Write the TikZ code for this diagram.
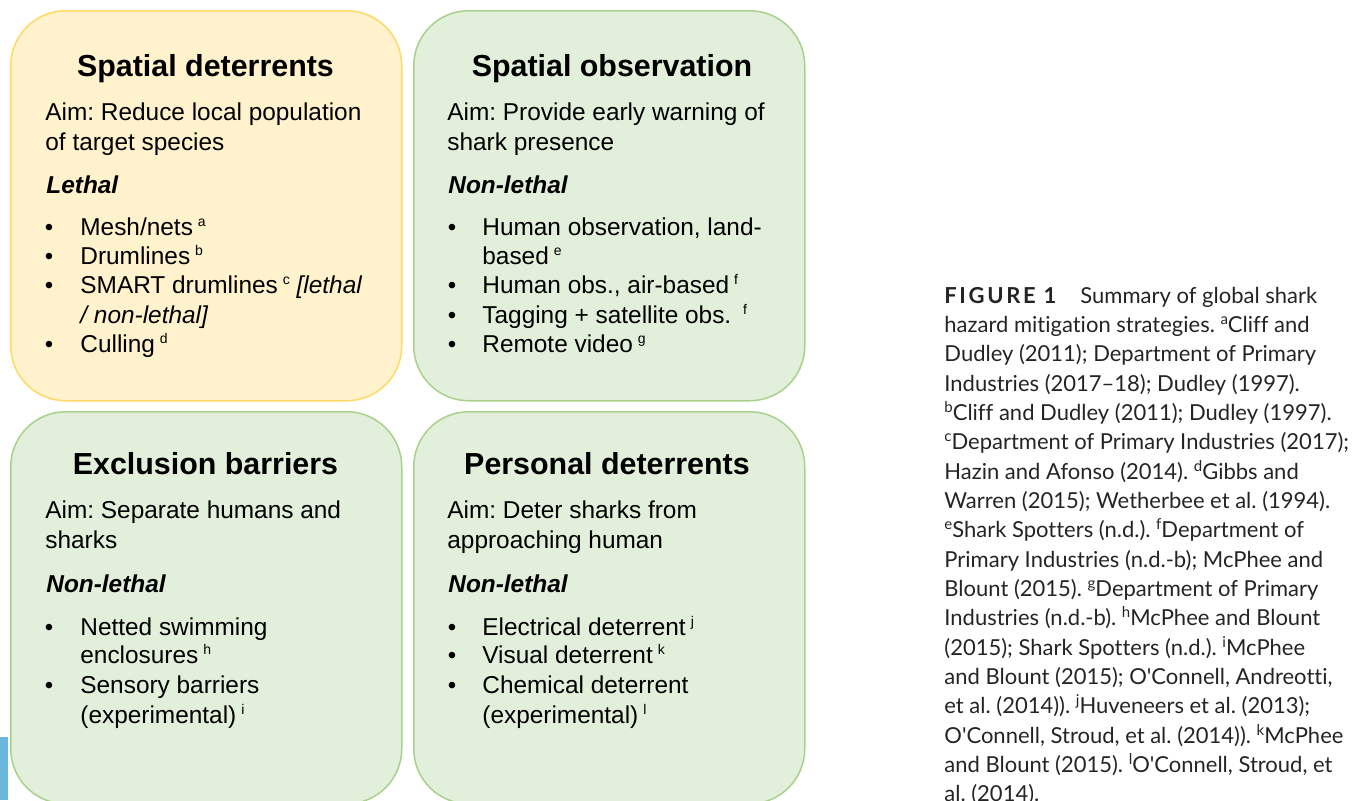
\documentclass[tikz,border=0pt]{standalone}
\usepackage{fontspec}
\setmainfont{Liberation Sans}
\newfontfamily\latofont[Ligatures=NoCommon]{Lato}
\newfontfamily\latolabel[LetterSpace=12]{Lato}
\frenchspacing

\definecolor{sdfill}{HTML}{FFF2CC}
\definecolor{sdline}{HTML}{FFD966}
\definecolor{nlfill}{HTML}{E2EFDA}
\definecolor{nlline}{HTML}{A9D18E}
\definecolor{edgeblue}{HTML}{6BB7DB}
\definecolor{capgray}{HTML}{262324}

\newcommand{\refmark}[1]{\hspace{2.5pt}\raisebox{4.5pt}{\fontsize{7}{7}\selectfont #1}}
\newcommand{\capref}[1]{\raisebox{4pt}{\fontsize{7.5}{7.5}\selectfont #1}}

\tikzset{
  panel/.style={rectangle, rounded corners=27.5pt, line width=0.75pt, anchor=north west,
    minimum width=195.5pt, minimum height=195pt, inner sep=0pt},
  lethalpanel/.style={panel, draw=sdline, fill=sdfill},
  safepanel/.style={panel, draw=nlline, fill=nlfill},
  heading/.style={anchor=base, inner sep=0pt, font=\bfseries\fontsize{15.2}{18}\selectfont},
  bodyline/.style={anchor=base west, inner sep=0pt, font=\fontsize{12.2}{15}\selectfont},
  kind/.style={bodyline, font=\bfseries\itshape\fontsize{12.2}{15}\selectfont},
  bulletmark/.style={anchor=base, inner sep=0pt, font=\fontsize{12}{15}\selectfont},
  capline/.style={anchor=base west, inner sep=0pt, text=capgray, font=\latofont\fontsize{11}{14}\selectfont}
}

\begin{document}
\begin{tikzpicture}[x=0.5pt,y=-0.5pt]
  \useasboundingbox (0,0) rectangle (1364,800);
  \clip (0,0) rectangle (1364,800);

  % the four panels
  \node[lethalpanel] (spatdet) at (10,10) {};
  \node[safepanel] (spatobs) at (413,10) {};
  \node[safepanel, minimum height=196pt] (exclbar) at (10,411) {};
  \node[safepanel, minimum height=196pt] (persdet) at (413,411) {};
  \fill[edgeblue] (0,737) rectangle (8,800);

  % spatial deterrents
  \node[heading] (spatdet-title) at (205.5,76) {Spatial deterrents};
  \node[bodyline] (spatdet-aim1) at (45,120) {Aim: Reduce local population};
  \node[bodyline] (spatdet-aim2) at (45,150) {of target species};
  \node[kind] (spatdet-kind) at (46,193) {Lethal};
  \foreach \y/\n in {235/1,264/2,293/3,352/4}
    \node[bulletmark] (spatdet-b\n) at (49,\y) {•};
  \node[bodyline] (spatdet-i1) at (80,235) {Mesh/nets\refmark{a}};
  \node[bodyline] (spatdet-i2) at (80,264) {Drumlines\refmark{b}};
  \node[bodyline] (spatdet-i3) at (80,293) {SMART drumlines\refmark{c} \textit{[lethal}};
  \node[bodyline] (spatdet-i4) at (80,323) {\textit{/ non-lethal]}};
  \node[bodyline] (spatdet-i5) at (80,352) {Culling\refmark{d}};

  % spatial observation
  \node[heading] (spatobs-title) at (612,76) {Spatial observation};
  \node[bodyline] (spatobs-aim1) at (447,120) {Aim: Provide early warning of};
  \node[bodyline] (spatobs-aim2) at (447,150) {shark presence};
  \node[kind] (spatobs-kind) at (448,193) {Non-lethal};
  \foreach \y/\n in {235/1,293/2,323/3,352/4}
    \node[bulletmark] (spatobs-b\n) at (452,\y) {•};
  \node[bodyline] (spatobs-i1) at (482,235) {Human observation, land-};
  \node[bodyline] (spatobs-i2) at (482,264) {based\refmark{e}};
  \node[bodyline] (spatobs-i3) at (482,293) {Human obs., air-based\refmark{f}};
  \node[bodyline] (spatobs-i4) at (482,323) {Tagging + satellite obs.\ \refmark{f}};
  \node[bodyline] (spatobs-i5) at (482,352) {Remote video\refmark{g}};

  % exclusion barriers
  \node[heading] (exclbar-title) at (205.5,474) {Exclusion barriers};
  \node[bodyline] (exclbar-aim1) at (45,518) {Aim: Separate humans and};
  \node[bodyline] (exclbar-aim2) at (45,548) {sharks};
  \node[kind] (exclbar-kind) at (46,592) {Non-lethal};
  \foreach \y/\n in {635/1,693/2}
    \node[bulletmark] (exclbar-b\n) at (49,\y) {•};
  \node[bodyline] (exclbar-i1) at (80,635) {Netted swimming};
  \node[bodyline] (exclbar-i2) at (80,663) {enclosures\refmark{h}};
  \node[bodyline] (exclbar-i3) at (80,693) {Sensory barriers};
  \node[bodyline] (exclbar-i4) at (80,723) {(experimental)\refmark{i}};

  % personal deterrents
  \node[heading] (persdet-title) at (607,474) {Personal deterrents};
  \node[bodyline] (persdet-aim1) at (447,518) {Aim: Deter sharks from};
  \node[bodyline] (persdet-aim2) at (447,548) {approaching human};
  \node[kind] (persdet-kind) at (448,592) {Non-lethal};
  \foreach \y/\n in {635/1,663/2,693/3}
    \node[bulletmark] (persdet-b\n) at (452,\y) {•};
  \node[bodyline] (persdet-i1) at (482,635) {Electrical deterrent\refmark{j}};
  \node[bodyline] (persdet-i2) at (482,663) {Visual deterrent\refmark{k}};
  \node[bodyline] (persdet-i3) at (482,693) {Chemical deterrent};
  \node[bodyline] (persdet-i4) at (482,723) {(experimental)\refmark{l}};

  % caption
  \foreach \txt [count=\i] in {
    {{\latolabel\bfseries FIGURE 1}\hspace{12pt}Summary of global shark},
    {hazard mitigation strategies. \capref{a}Cliff and},
    {Dudley (2011); Department of Primary},
    {Industries (2017–18); Dudley (1997).},
    {\capref{b}Cliff and Dudley (2011); Dudley (1997).},
    {\capref{c}Department of Primary Industries (2017);},
    {Hazin and Afonso (2014). \capref{d}Gibbs and},
    {Warren (2015); Wetherbee et al. (1994).},
    {\capref{e}Shark Spotters (n.d.). \capref{f}Department of},
    {Primary Industries (n.d.-b); McPhee and},
    {Blount (2015). \capref{g}Department of Primary},
    {Industries (n.d.-b). \capref{h}McPhee and Blount},
    {(2015); Shark Spotters (n.d.). \capref{i}McPhee},
    {and Blount (2015); O'Connell, Andreotti,},
    {et al. (2014)). \capref{j}Huveneers et al. (2013);},
    {O'Connell, Stroud, et al. (2014)). \capref{k}McPhee},
    {and Blount (2015). \capref{l}O'Connell, Stroud, et},
    {al. (2014).}}
    \node[capline] (cap-\i) at (944,{303+29.35*(\i-1)}) {\txt};
\end{tikzpicture}
\end{document}
